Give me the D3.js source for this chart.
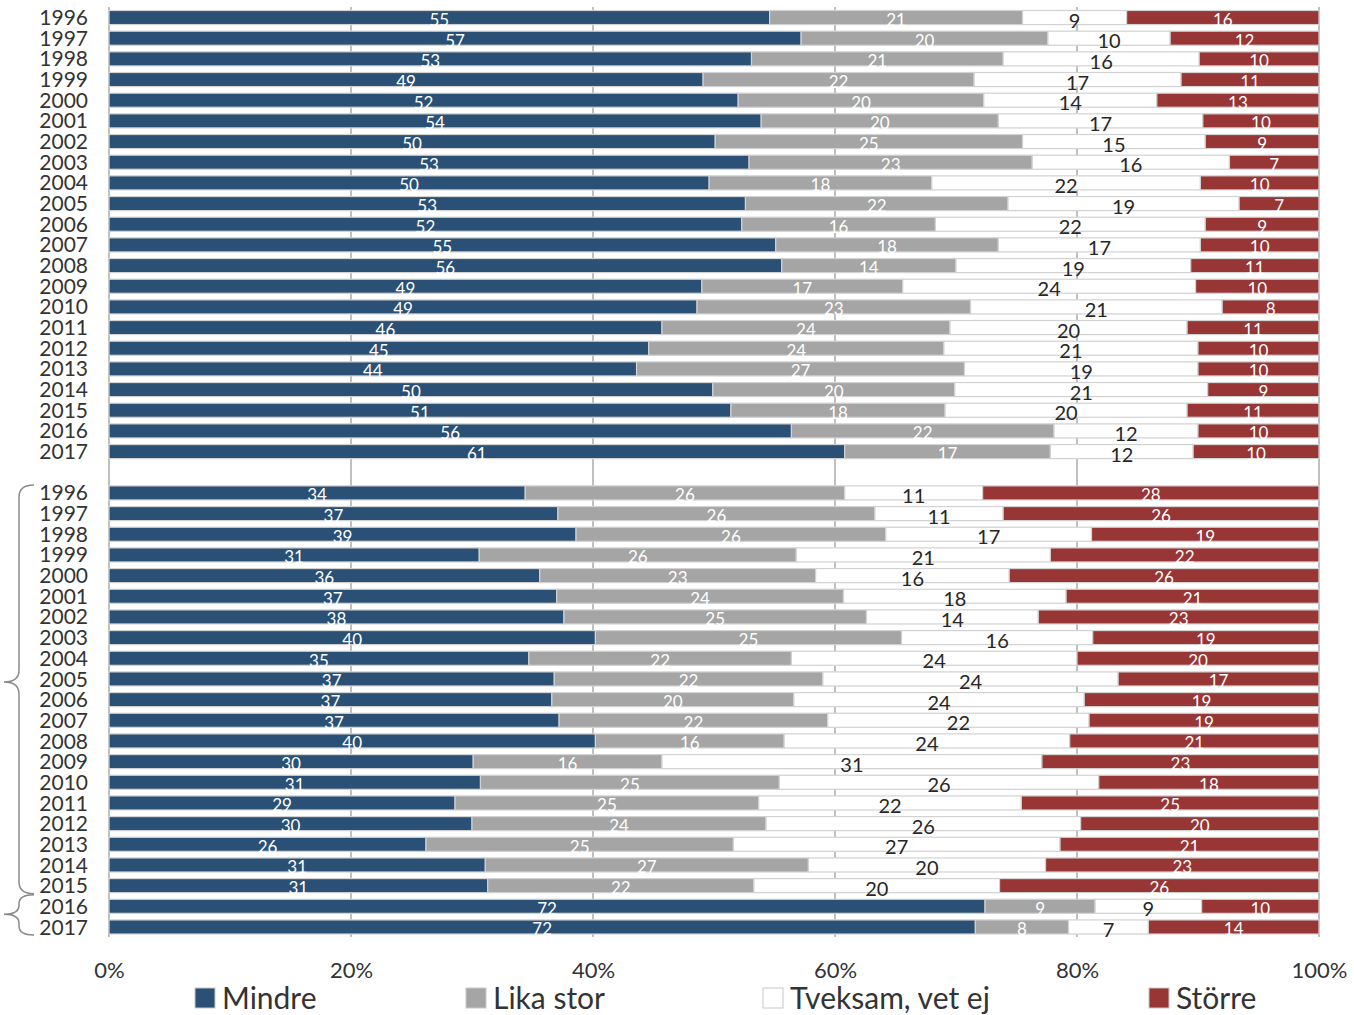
<!DOCTYPE html>
<html>
<head>
<meta charset="utf-8">
<script src="https://cdn.jsdelivr.net/npm/d3@7"></script>
<style>
  html, body { margin: 0; padding: 0; background: #fff; }
  svg { display: block; font-family: Lato, "Open Sans", sans-serif; }
</style>
</head>
<body>
<svg id="chart" width="1354" height="1015"></svg>
<script>
// ---------- DATA ----------
const years = [1996, 1997, 1998, 1999, 2000, 2001, 2002, 2003, 2004, 2005, 2006,
               2007, 2008, 2009, 2010, 2011, 2012, 2013, 2014, 2015, 2016, 2017];

const seriesNames = ["Mindre", "Lika stor", "Tveksam, vet ej", "Större"];

// Upper block
const mindre1  = [54.6, 57.2, 53.1, 49.1, 52.0, 53.9, 50.1, 52.9, 49.6, 52.6, 52.3,
                  55.1, 55.6, 49.0, 48.6, 45.7, 44.6, 43.6, 49.9, 51.4, 56.4, 60.8];
const lika1    = [20.9, 20.4, 20.8, 22.4, 20.3, 19.6, 25.4, 23.4, 18.4, 21.7, 16.0,
                  18.4, 14.4, 16.6, 22.6, 23.8, 24.4, 27.1, 20.0, 17.7, 21.7, 17.0];
const tveksam1 = [ 8.6, 10.1, 16.2, 17.1, 14.3, 16.9, 15.1, 16.3, 22.2, 19.1, 22.3,
                  16.7, 19.4, 24.2, 20.8, 19.6, 21.0, 19.3, 20.9, 20.0, 11.9, 11.8];
const storre1  = [15.9, 12.3,  9.9, 11.4, 13.4,  9.6,  9.4,  7.4,  9.8,  6.6,  9.4,
                   9.8, 10.6, 10.2,  8.0, 10.9, 10.0, 10.0,  9.2, 10.9, 10.0, 10.4];

// Lower block
const mindre2  = [34.4, 37.1, 38.6, 30.6, 35.6, 37.0, 37.6, 40.2, 34.7, 36.8, 36.6,
                  37.2, 40.2, 30.1, 30.7, 28.6, 30.0, 26.2, 31.1, 31.3, 72.4, 71.6];
const lika2    = [26.4, 26.2, 25.6, 26.2, 22.8, 23.7, 25.0, 25.3, 21.7, 22.2, 20.0,
                  22.2, 15.6, 15.6, 24.7, 25.1, 24.3, 25.4, 26.7, 22.0,  9.1,  7.7];
const tveksam2 = [11.4, 10.6, 17.0, 21.0, 16.0, 18.4, 14.2, 15.8, 23.6, 24.4, 24.0,
                  21.6, 23.6, 31.4, 26.4, 21.7, 26.0, 27.0, 19.6, 20.3,  8.8,  6.6];
const storre2  = [27.8, 26.1, 18.8, 22.2, 25.6, 20.9, 23.2, 18.7, 20.0, 16.6, 19.4,
                  19.0, 20.6, 22.9, 18.2, 24.6, 19.7, 21.4, 22.6, 26.4,  9.7, 14.1];

const xTicks = [0, 0.2, 0.4, 0.6, 0.8, 1];

// ---------- STYLE ----------
const colors = ["#2a5075", "#a5a5a5", "#ffffff", "#983535"];
const labelColors = ["#ffffff", "#ffffff", "#262626", "#ffffff"];
const keys = ["m", "l", "t", "s"];

// ---------- BUILD ROWS ----------
const rows = [];
years.forEach((y, i) => rows.push({ key: "a" + y, year: y, m: mindre1[i], l: lika1[i], t: tveksam1[i], s: storre1[i] }));
const gapKey = "gap";
years.forEach((y, i) => rows.push({ key: "b" + y, year: y, m: mindre2[i], l: lika2[i], t: tveksam2[i], s: storre2[i] }));

const domain = [...years.map(y => "a" + y), gapKey, ...years.map(y => "b" + y)];

const svg = d3.select("#chart");
svg.append("rect").attr("width", 1354).attr("height", 1015).attr("fill", "#fff");

const x = d3.scaleLinear().domain([0, 1]).range([109, 1319]);
const y = d3.scaleBand().domain(domain).range([7.2, 937.3]).paddingInner(0.32).paddingOuter(0.16);

// gridlines
svg.append("g").selectAll("line").data(xTicks).join("line")
  .attr("x1", d => x(d)).attr("x2", d => x(d))
  .attr("y1", 7).attr("y2", 937)
  .attr("stroke", "#c0c0c0").attr("stroke-width", 2);

// stacked bars
const stack = d3.stack().keys(keys).offset(d3.stackOffsetExpand);
const series = stack(rows);

const gBars = svg.append("g");
series.forEach((s, si) => {
  gBars.append("g").selectAll("rect").data(s).join("rect")
    .attr("x", d => x(d[0]))
    .attr("width", d => x(d[1]) - x(d[0]))
    .attr("y", d => y(d.data.key))
    .attr("height", y.bandwidth())
    .attr("fill", colors[si])
    .attr("stroke", "#d2d2d2")
    .attr("stroke-width", 1.2);
});

// value labels
series.forEach((s, si) => {
  gBars.append("g").selectAll("text").data(s).join("text")
    .attr("x", d => (x(d[0]) + x(d[1])) / 2)
    .attr("y", d => y(d.data.key) + y.bandwidth() / 2 + 2)
    .attr("text-anchor", "middle")
    .attr("dominant-baseline", "central")
    .attr("font-size", si === 2 ? 20 : 17)
    .attr("fill", labelColors[si])
    .text(d => Math.round(d.data[keys[si]]));
});

// y axis (year labels)
const yAxis = d3.axisLeft(y)
  .tickSize(0)
  .tickPadding(0)
  .tickFormat(k => k === gapKey ? "" : k.slice(1));
const gy = svg.append("g").attr("transform", "translate(88,0)").call(yAxis);
gy.select(".domain").remove();
gy.selectAll("text")
  .attr("font-family", "Lato, sans-serif")
  .attr("font-size", 21)
  .attr("fill", "#333")
  .attr("dy", "0.36em");

// x axis
const xAxis = d3.axisBottom(x).tickValues(xTicks).tickSize(0).tickPadding(0).tickFormat(d3.format(".0%"));
const gx = svg.append("g").attr("transform", "translate(0,962)").call(xAxis);
gx.select(".domain").remove();
gx.selectAll("text")
  .attr("font-family", "Lato, sans-serif")
  .attr("font-size", 22)
  .attr("fill", "#333")
  .attr("dy", "0.71em");

// legend
const legendX = [195, 466, 763, 1149];
const lg = svg.append("g");
seriesNames.forEach((name, i) => {
  lg.append("rect")
    .attr("x", legendX[i]).attr("y", 988)
    .attr("width", 20).attr("height", 20)
    .attr("fill", colors[i])
    .attr("stroke", "#c8c8c8").attr("stroke-width", 1);
  lg.append("text")
    .attr("x", legendX[i] + 27).attr("y", 1009)
    .attr("font-size", 30).attr("fill", "#333")
    .text(name);
});

// braces on the left for the lower block
function brace(xEnd, xLine, xTip, y0, ym, y1, r) {
  const p = d3.path();
  p.moveTo(xEnd, y0);
  p.quadraticCurveTo(xLine, y0, xLine, y0 + r);
  p.lineTo(xLine, ym - r);
  p.quadraticCurveTo(xLine, ym, xTip, ym);
  p.quadraticCurveTo(xLine, ym, xLine, ym + r);
  p.lineTo(xLine, y1 - r);
  p.quadraticCurveTo(xLine, y1, xEnd, y1);
  return p.toString();
}
const bTop = y("b1996") - 1;
const bMid1 = y("b2005") + y.bandwidth() / 2 + 3;
const bBot1 = y("b2015") + y.bandwidth() + 1;
const bBot2 = y("b2017") + y.bandwidth() + 1;
const bMid2 = (bBot1 + bBot2) / 2;
svg.append("path")
  .attr("d", brace(34, 19, 4, bTop, bMid1, bBot1, 12))
  .attr("fill", "none").attr("stroke", "#8a8a8a").attr("stroke-width", 1.5);
svg.append("path")
  .attr("d", brace(34, 19, 4, bBot1 + 1, bMid2, bBot2, 9))
  .attr("fill", "none").attr("stroke", "#8a8a8a").attr("stroke-width", 1.5);
</script>
</body>
</html>
